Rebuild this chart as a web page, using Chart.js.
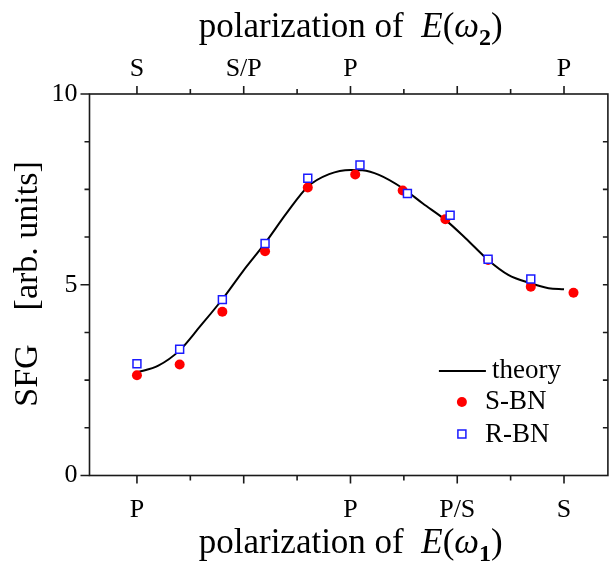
<!DOCTYPE html>
<html><head><meta charset="utf-8">
<script src="https://cdn.jsdelivr.net/npm/chart.js@4.4.1/dist/chart.umd.min.js"></script>
<style>html,body{margin:0;padding:0;background:#fff}#wrap{width:615px;height:565px;position:relative}</style>
</head><body><div id="wrap"><canvas id="c"></canvas></div>
<script>
// ---- data (x = polarizer angle in degrees, y = SFG in arb. units) ----
const sbnX = [0, 36, 72, 108, 144, 184, 224, 260, 296, 332, 368];
const sbnY = [2.63, 2.91, 4.29, 5.88, 7.55, 7.89, 7.47, 6.72, 5.65, 4.95, 4.79];
const rbnX = [0, 36, 72, 108, 144, 188, 228, 264, 296, 332];
const rbnY = [2.93, 3.31, 4.61, 6.08, 7.79, 8.14, 7.39, 6.82, 5.67, 5.15];
const theoryX = [0, 18, 36, 53, 72, 89, 108, 126, 144, 162, 180, 190, 204, 224, 241, 260, 277, 296, 313, 332, 347, 360];
const theoryY = [2.70, 2.88, 3.28, 3.90, 4.62, 5.34, 6.09, 6.87, 7.57, 7.90, 8.01, 8.00, 7.88, 7.53, 7.13, 6.70, 6.22, 5.65, 5.26, 5.04, 4.91, 4.88];
const bottomTickPos = [0, 180, 270, 360];
const bottomTickLabels = ['P', 'P', 'P/S', 'S'];
const topTickPos = [0, 90, 180, 360];
const topTickLabels = ['S', 'S/P', 'P', 'P'];
const yTickPos = [0, 5, 10];
const xMinorStep = 45, yMinorStep = 1.25;

const FONT = 'Liberation Serif';
const toPts = (xs, ys) => xs.map((x, i) => ({x: x, y: ys[i]}));

function drawRich(ctx, parts, cx, cy, rot) {
  ctx.save();
  ctx.translate(cx, cy);
  if (rot) ctx.rotate(rot);
  let total = 0;
  parts.forEach(p => { ctx.font = p.f; p.w = ctx.measureText(p.t).width; total += p.w; });
  let x = -total / 2;
  ctx.fillStyle = '#000';
  ctx.textBaseline = 'alphabetic';
  ctx.textAlign = 'left';
  parts.forEach(p => { ctx.font = p.f; ctx.fillText(p.t, x, p.dy || 0); x += p.w; });
  ctx.restore();
}

const framePlugin = {
  id: 'frame',
  afterDraw(chart) {
    const ctx = chart.ctx, a = chart.chartArea;
    const xs = chart.scales.x, ys = chart.scales.y;
    ctx.save();
    ctx.strokeStyle = '#1a1a1a';
    ctx.lineWidth = 1.6;
    ctx.strokeRect(a.left, a.top, a.right - a.left, a.bottom - a.top);
    ctx.beginPath();
    for (let v = 0; v <= 360; v += xMinorStep) {
      const px = xs.getPixelForValue(v);
      const len = (v % 90 === 0) ? 8 : 5;
      ctx.moveTo(px, a.bottom); ctx.lineTo(px, a.bottom + len);
      ctx.moveTo(px, a.top); ctx.lineTo(px, a.top - len);
    }
    for (let v = 0; v <= 10; v += yMinorStep) {
      const py = ys.getPixelForValue(v);
      const len = (v % 5 === 0) ? 9 : 5;
      ctx.moveTo(a.left, py); ctx.lineTo(a.left - len, py);
      if (v > 0 && v < 10) { ctx.moveTo(a.right, py); ctx.lineTo(a.right - 5, py); }
    }
    ctx.stroke();

    // axis titles
    const big = '35px "' + FONT + '"';
    const it = 'italic 35px "' + FONT + '"';
    const sub = 'bold 24px "' + FONT + '"';
    const cx = (a.left + a.right) / 2 + 2;
    drawRich(ctx, [
      {t: 'polarization of  ', f: big}, {t: 'E', f: it}, {t: '(', f: big},
      {t: 'ω', f: it}, {t: '2', f: sub, dy: 8}, {t: ')', f: big}], cx, 37, 0);
    drawRich(ctx, [
      {t: 'polarization of  ', f: big}, {t: 'E', f: it}, {t: '(', f: big},
      {t: 'ω', f: it}, {t: '1', f: sub, dy: 8}, {t: ')', f: big}], cx, 553, 0);
    drawRich(ctx, [{t: 'SFG    [arb. units]', f: '34px "' + FONT + '"'}], 37, 284, -Math.PI / 2);

    // legend
    const lx = a.right - 169, ly = a.top + 277;
    ctx.font = '27px "' + FONT + '"';
    ctx.fillStyle = '#000';
    ctx.textBaseline = 'middle';
    ctx.textAlign = 'left';
    ctx.strokeStyle = '#000';
    ctx.lineWidth = 2;
    ctx.beginPath(); ctx.moveTo(lx, ly); ctx.lineTo(lx + 47, ly); ctx.stroke();
    ctx.fillText('theory', lx + 53, ly);
    ctx.fillStyle = '#ff0000';
    ctx.beginPath(); ctx.arc(lx + 23, ly + 31, 5, 0, Math.PI * 2); ctx.fill();
    ctx.fillStyle = '#000';
    ctx.fillText('S-BN', lx + 46, ly + 31);
    ctx.fillStyle = '#fff';
    ctx.strokeStyle = '#1a1aff';
    ctx.lineWidth = 1.5;
    ctx.fillRect(lx + 19, ly + 59, 8, 8);
    ctx.strokeRect(lx + 19, ly + 59, 8, 8);
    ctx.fillStyle = '#000';
    ctx.fillText('R-BN', lx + 46, ly + 64);
    ctx.restore();
  }
};

const tickFont = {family: FONT, size: 26};
new Chart(document.getElementById('c'), {
  type: 'scatter',
  data: {
    datasets: [
      {label: 'theory', type: 'line', data: toPts(theoryX, theoryY), borderColor: '#000', borderWidth: 2,
       pointRadius: 0, fill: false, cubicInterpolationMode: 'monotone', order: 3},
      {label: 'S-BN', data: toPts(sbnX, sbnY), pointStyle: 'circle', pointRadius: 5,
       backgroundColor: '#ff0000', borderColor: '#ff0000', borderWidth: 0, order: 2},
      {label: 'R-BN', data: toPts(rbnX, rbnY), pointStyle: 'rect', pointRadius: 5.6,
       backgroundColor: '#ffffff', borderColor: '#1a1aff', borderWidth: 1.5, order: 1}
    ]
  },
  options: {
    responsive: true, maintainAspectRatio: false, animation: false,
    layout: {padding: {right: 6}},
    plugins: {legend: {display: false}, tooltip: {enabled: false}},
    scales: {
      x: {type: 'linear', position: 'bottom', min: -40, max: 397,
          grid: {display: false, drawTicks: false}, border: {display: false},
          afterBuildTicks: s => { s.ticks = bottomTickPos.map(v => ({value: v})); },
          afterFit: s => { s.height = 89.5; },
          ticks: {font: tickFont, color: '#000', padding: 19, maxRotation: 0, autoSkip: false,
                  callback: v => bottomTickLabels[bottomTickPos.indexOf(v)] ?? ''}},
      x2: {type: 'linear', position: 'top', min: -40, max: 397,
          grid: {display: false, drawTicks: false}, border: {display: false},
          afterBuildTicks: s => { s.ticks = topTickPos.map(v => ({value: v})); },
          afterFit: s => { s.height = 94; },
          ticks: {font: tickFont, color: '#000', padding: 9, maxRotation: 0, autoSkip: false,
                  callback: v => topTickLabels[topTickPos.indexOf(v)] ?? ''}},
      y: {type: 'linear', position: 'left', min: 0, max: 10,
          grid: {display: false, drawTicks: false}, border: {display: false},
          afterBuildTicks: s => { s.ticks = yTickPos.map(v => ({value: v})); },
          afterFit: s => { s.width = 89.5; },
          ticks: {font: tickFont, color: '#000', padding: 12, callback: v => String(v)}}
    }
  },
  plugins: [framePlugin]
});
</script></body></html>
